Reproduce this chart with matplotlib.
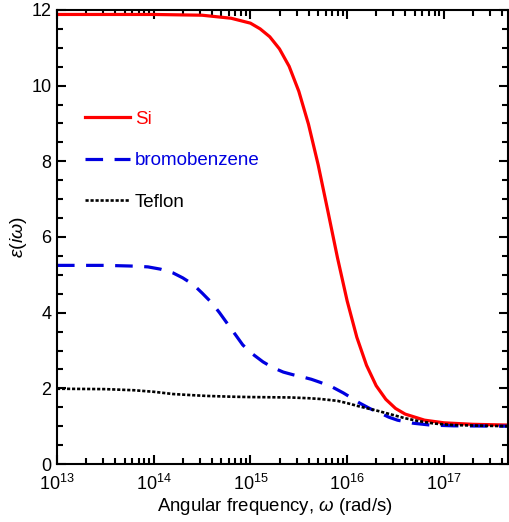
import numpy as np
import matplotlib
matplotlib.use("Agg")
import matplotlib.pyplot as plt
from matplotlib.ticker import LogLocator, MultipleLocator

plt.rcParams["font.family"] = ["Liberation Sans", "DejaVu Sans"]
plt.rcParams["mathtext.fontset"] = "custom"
plt.rcParams["mathtext.rm"] = "Liberation Sans"
plt.rcParams["mathtext.it"] = "Liberation Sans:italic"

# Datos (log10 de la frecuencia angular, epsilon)
si_logw = [13.0, 14.0, 14.5, 14.8, 15.0, 15.1, 15.2, 15.3, 15.4, 15.5, 15.6,
           15.7, 15.8, 15.9, 16.0, 16.1, 16.2, 16.3, 16.4, 16.5, 16.6,
           16.8, 17.0, 17.3, 17.67]
si_eps = [11.88, 11.88, 11.86, 11.78, 11.65, 11.50, 11.29, 10.97, 10.51, 9.85, 8.98,
          7.91, 6.69, 5.45, 4.31, 3.35, 2.61, 2.07, 1.71, 1.47, 1.32,
          1.16, 1.09, 1.05, 1.03]

bromo_logw = [13.0, 13.5, 13.8, 13.94, 14.07, 14.2, 14.3, 14.41, 14.5, 14.6,
              14.68, 14.77, 14.85, 14.92, 15.0, 15.13, 15.23, 15.34, 15.44,
              15.54, 15.63, 15.72, 15.85, 15.96, 16.05, 16.13, 16.24, 16.34,
              16.43, 16.52, 16.68, 16.86, 17.1, 17.67]
bromo_eps = [5.25, 5.25, 5.23, 5.21, 5.15, 5.05, 4.92, 4.74, 4.52, 4.26,
             4.00, 3.68, 3.40, 3.15, 2.95, 2.70, 2.55, 2.43, 2.36,
             2.30, 2.24, 2.16, 2.03, 1.88, 1.74, 1.61, 1.46, 1.35,
             1.24, 1.16, 1.08, 1.03, 1.01, 1.00]

teflon_logw = [13.0, 13.5, 13.8, 14.0, 14.2, 14.4, 14.55, 14.8, 15.0, 15.41,
               15.6, 15.72, 15.9, 16.0, 16.13, 16.31, 16.47, 16.6, 16.75,
               16.9, 17.1, 17.45, 17.67]
teflon_eps = [1.99, 1.98, 1.95, 1.91, 1.85, 1.82, 1.80, 1.78, 1.77, 1.76,
              1.74, 1.72, 1.67, 1.61, 1.52, 1.41, 1.30, 1.21, 1.13,
              1.07, 1.03, 1.01, 1.00]

fig = plt.figure(figsize=(5.09, 5.22), dpi=100)
ax = fig.add_axes([0.112, 0.111, 0.886, 0.870])

ax.plot(10 ** np.array(si_logw), si_eps, color="#ff0000", lw=2.3, label="Si")
ax.plot(10 ** np.array(bromo_logw), bromo_eps, color="#0000e0", lw=2.3,
        linestyle=(0, (5.5, 3.6)), label="bromobenzene")
ax.plot(10 ** np.array(teflon_logw), teflon_eps, color="black", lw=1.9,
        linestyle=(0, (1.2, 0.7)), label="Teflon")

ax.set_xscale("log")
ax.set_xlim(1e13, 4.6e17)
ax.set_ylim(0, 12)

ax.xaxis.set_major_locator(LogLocator(base=10, numticks=10))
ax.xaxis.set_minor_locator(LogLocator(base=10, subs=np.arange(2, 10), numticks=20))
ax.yaxis.set_major_locator(MultipleLocator(2))
ax.yaxis.set_minor_locator(MultipleLocator(0.5))

ax.tick_params(which="both", direction="in", top=True, right=True, width=1.5, labelsize=13)
ax.tick_params(which="major", length=6.5)
ax.tick_params(which="minor", length=4.3)
ax.tick_params(axis="y", pad=4)
ax.tick_params(axis="x", pad=7)
for s in ax.spines.values():
    s.set_linewidth(1.5)

ax.set_xlabel(r"Angular frequency, $\omega$ (rad/s)", fontsize=13.4, labelpad=1)
ax.xaxis.set_label_coords(0.483, -0.07)
ax.set_ylabel(r"$\varepsilon(i\omega)$", fontsize=14, labelpad=2)

ax.legend(loc="upper left", bbox_to_anchor=(0.062, 0.778), frameon=False,
          labelcolor="linecolor", fontsize=13.5, handlelength=2.4,
          handletextpad=0.25, labelspacing=1.3, borderpad=0, borderaxespad=0)

fig.savefig("out.png", dpi=100)
